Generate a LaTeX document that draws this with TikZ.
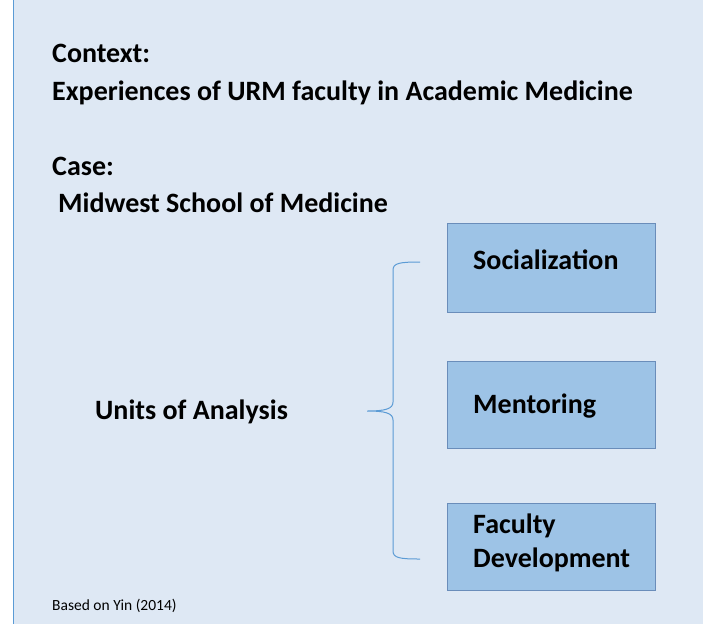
\documentclass[tikz,border=0pt]{standalone}
\usepackage{fontspec}
\setmainfont{Carlito}
\definecolor{bgblue}{HTML}{DEE8F4}
\definecolor{edgeblue}{HTML}{5B9BD5}
\definecolor{boxfill}{HTML}{9DC3E6}
\definecolor{boxline}{HTML}{6A8DBA}
\definecolor{bracecol}{HTML}{5B9BD5}
\begin{document}
\begin{tikzpicture}[x=1pt,y=-1pt,
  lbl/.style={anchor=base west,inner sep=0pt,font=\fontsize{28}{33}\selectfont\bfseries},
  small/.style={anchor=base west,inner sep=0pt,font=\fontsize{15.5}{18}\selectfont},
  unitbox/.style={draw=boxline,fill=boxfill,line width=1pt}]
\useasboundingbox (0,0) rectangle (703,624);
\fill[bgblue] (13,0) rectangle (703,624);
\draw[edgeblue,line width=1.5pt] (13.5,0) -- (13.5,624);
% boxes
\node[unitbox,minimum width=208pt,minimum height=89pt,anchor=north west] (b1) at (447,223) {};
\node[unitbox,minimum width=208pt,minimum height=87pt,anchor=north west] (b2) at (447,361) {};
\node[unitbox,minimum width=208pt,minimum height=87pt,anchor=north west] (b3) at (447,503) {};
% texts
\node[lbl] (ctx) at (52,62) {Context:};
\node[lbl] (exp) at (52,100) {Experiences of URM faculty in Academic Medicine};
\node[lbl] (case) at (52,175) {Case:};
\node[lbl] (mid) at (58,212) {Midwest School of Medicine};
\node[lbl] (units) at (95,419) {Units of Analysis};
\node[lbl] (soc) at (473,269) {Socialization};
\node[lbl] (men) at (473,413) {Mentoring};
\node[lbl] (fac) at (473,533) {Faculty};
\node[lbl] (dev) at (473,567) {Development};
\node[small] (yin) at (52,610) {Based on Yin (2014)};
% brace
\coordinate (bt) at (420,262);
\coordinate (bm) at (367,411);
\coordinate (bb) at (420,559);
\draw[bracecol,line width=1pt]
  (bt) .. controls (400,262) and (393,263) .. (393,270)
  -- (393,402) .. controls (393,409) and (385,411) .. (bm)
  .. controls (385,411) and (393,413) .. (393,420)
  -- (393,551) .. controls (393,558) and (400,559) .. (bb);
\end{tikzpicture}
\end{document}
